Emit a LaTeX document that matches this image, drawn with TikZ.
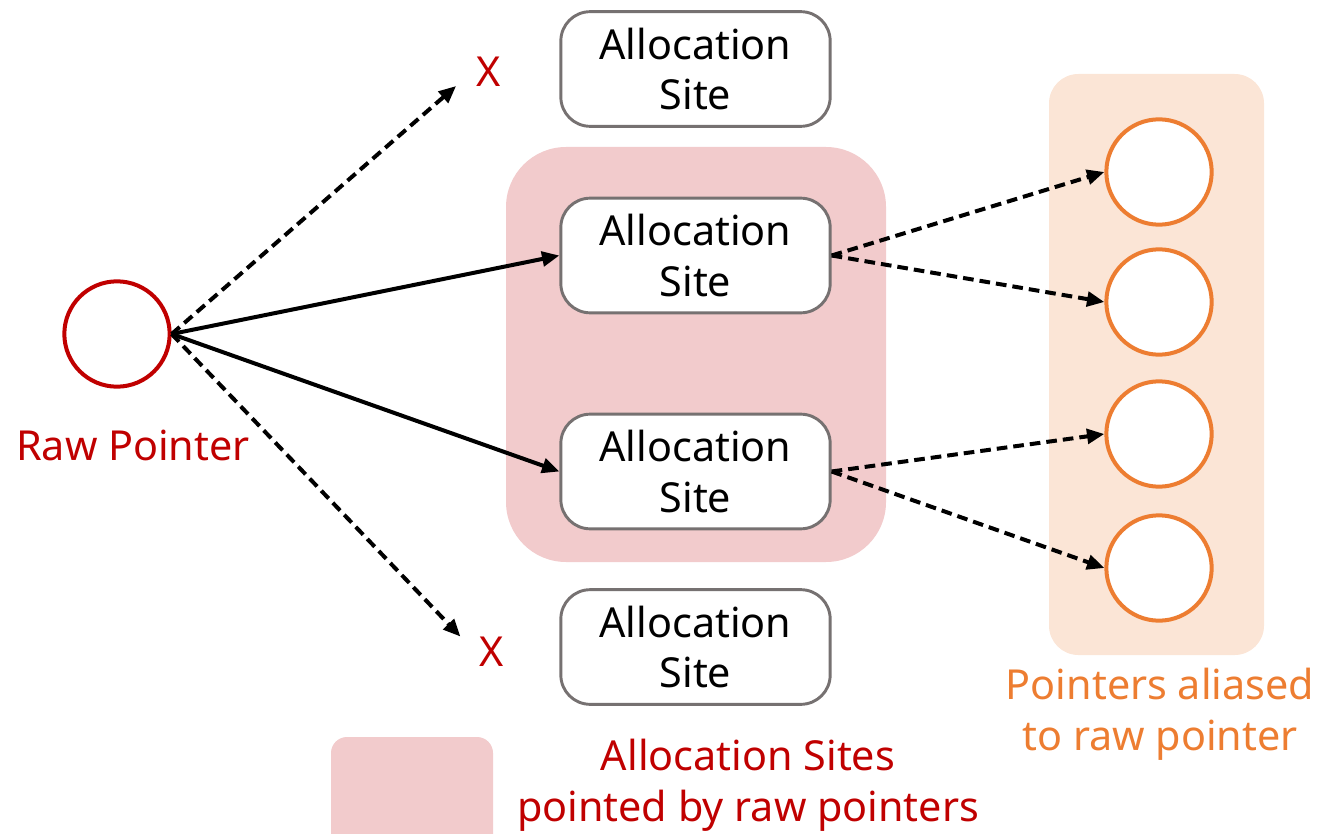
\documentclass[tikz,border=0pt]{standalone}
\usepackage{fontspec}
\setmainfont{Noto Sans}
\usetikzlibrary{arrows.meta}
\definecolor{rawred}{HTML}{C00000}
\definecolor{aliasorange}{HTML}{ED7D31}
\definecolor{sitepink}{HTML}{F2CBCC}
\definecolor{aliasfill}{HTML}{FBE5D6}
\definecolor{boxgray}{HTML}{767171}

\begin{document}
\begin{tikzpicture}[x=0.75pt, y=-0.75pt, >={Triangle[length=13pt, width=11pt]},
	every node/.style={font=\fontsize{31}{38}\selectfont},
	site/.style={draw=boxgray, line width=2.2pt, rounded corners=22pt, fill=white,
		minimum width=202pt, minimum height=86pt, align=center, inner sep=0pt},
	ptr/.style={circle, line width=3pt, minimum size=79pt, inner sep=0pt, fill=white},
	link/.style={->, line width=3pt},
	alias/.style={link, dash pattern=on 8pt off 4.5pt}]
	\useasboundingbox (0,0) rectangle (1319,834);
	
	% 1. 背景区域
	\fill[sitepink, rounded corners=45pt] (506,147) rectangle (886,562);
	\fill[aliasfill, rounded corners=22pt] (1049,74) rectangle (1264,655);
	\fill[sitepink, rounded corners=12pt] (331,737) rectangle (493,870);
	
	% 2. 节点
	\node[ptr, draw=rawred] (raw) at (117,334) {};
	\node[text=rawred] (rawlbl) at (133,445) {Raw Pointer};
	
	\node[site] (as1) at (695.5,69) {Allocation\\Site};
	\node[site] (as2) at (695.5,255.5) {Allocation\\Site};
	\node[site] (as3) at (695.5,471.5) {Allocation\\Site};
	\node[site] (as4) at (695.5,647) {Allocation\\Site};
	
	\node[text=rawred] (xup) at (489,72) {X};
	\node[text=rawred] (xdown) at (492,652) {X};
	
	\node[ptr, draw=aliasorange] (ptr1) at (1159,172) {};
	\node[ptr, draw=aliasorange] (ptr2) at (1159,302) {};
	\node[ptr, draw=aliasorange] (ptr3) at (1159,434) {};
	\node[ptr, draw=aliasorange] (ptr4) at (1159,568) {};
	
	\node[text=aliasorange, align=center] (aliaslbl) at (1160,714) {Pointers aliased\\to raw pointer};
	\node[text=rawred, align=center] (legendlbl) at (748,785) {Allocation Sites\\pointed by raw pointers};
	
	% 3. 箭头
	\draw[link] (raw.east) -- (as2.west);
	\draw[link] (raw.east) -- (as3.west);
	\draw[alias, shorten >=16pt] (raw.east) -- (xup.west);
	\draw[alias, shorten >=16pt] (raw.east) -- (xdown.west);
	
	\draw[alias] (as2.east) -- (ptr1.west);
	\draw[alias] (as2.east) -- (ptr2.west);
	\draw[alias] (as3.east) -- (ptr3.west);
	\draw[alias] (as3.east) -- (ptr4.west);
\end{tikzpicture}
\end{document}
